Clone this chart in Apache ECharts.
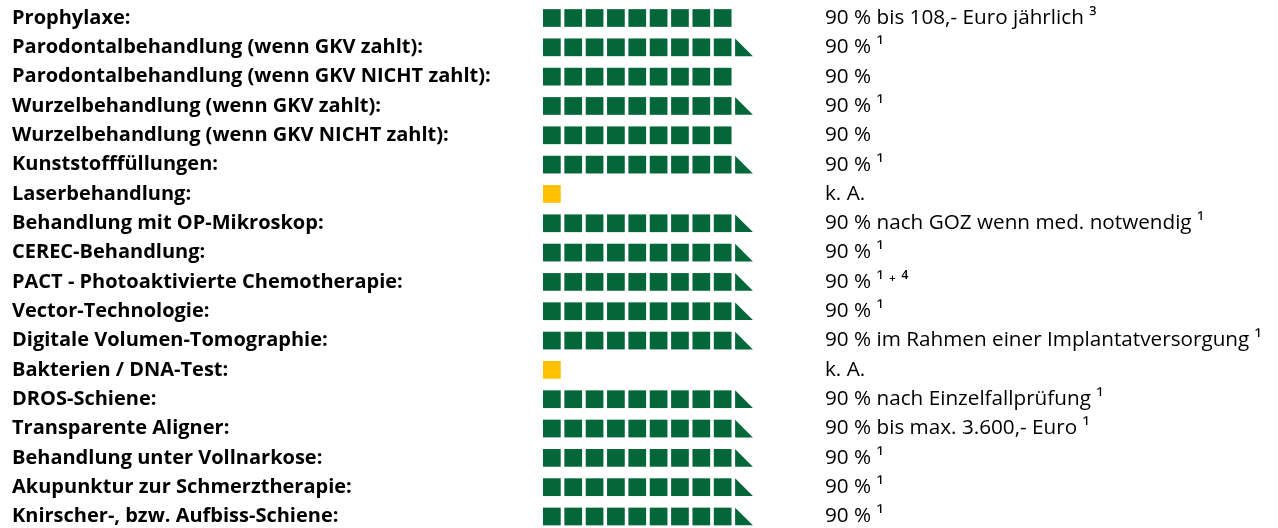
<!DOCTYPE html>
<html>
<head>
<meta charset="utf-8">
<script src="https://cdn.jsdelivr.net/npm/echarts@6/dist/echarts.min.js"></script>
<style>
  html, body { margin: 0; padding: 0; background: #fff; }
  #leistungen { width: 1278px; height: 528px; }
</style>
</head>
<body>
<div id="leistungen"></div>
<script>
var labels = [
  'Prophylaxe:',
  'Parodontalbehandlung (wenn GKV zahlt):',
  'Parodontalbehandlung (wenn GKV NICHT zahlt):',
  'Wurzelbehandlung (wenn GKV zahlt):',
  'Wurzelbehandlung (wenn GKV NICHT zahlt):',
  'Kunststofffüllungen:',
  'Laserbehandlung:',
  'Behandlung mit OP-Mikroskop:',
  'CEREC-Behandlung:',
  'PACT - Photoaktivierte Chemotherapie:',
  'Vector-Technologie:',
  'Digitale Volumen-Tomographie:',
  'Bakterien / DNA-Test:',
  'DROS-Schiene:',
  'Transparente Aligner:',
  'Behandlung unter Vollnarkose:',
  'Akupunktur zur Schmerztherapie:',
  'Knirscher-, bzw. Aufbiss-Schiene:'
];

// 9 = neun volle Kästchen, 9.5 = neun Kästchen + Dreieck, null = k. A.
var scores = [9, 9.5, 9, 9.5, 9, 9.5, null, 9.5, 9.5, 9.5, 9.5, 9.5, null, 9.5, 9.5, 9.5, 9.5, 9.5];

var notes = [
  '90 % bis 108,- Euro jährlich ³',
  '90 % ¹',
  '90 %',
  '90 % ¹',
  '90 %',
  '90 % ¹',
  'k. A.',
  '90 % nach GOZ wenn med. notwendig ¹',
  '90 % ¹',
  '90 % ¹ ⁺ ⁴',
  '90 % ¹',
  '90 % im Rahmen einer Implantatversorgung ¹',
  'k. A.',
  '90 % nach Einzelfallprüfung ¹',
  '90 % bis max. 3.600,- Euro ¹',
  '90 % ¹',
  '90 % ¹',
  '90 % ¹'
];

var green = '#04673a';
var yellow = '#ffc000';

// jedes Kästchen als eigener Datenpunkt: [position, zeile, art]
var blocks = [];
scores.forEach(function (s, row) {
  if (s === null) {
    blocks.push([0, row, 'na']);
    return;
  }
  var full = Math.floor(s);
  for (var k = 0; k < full; k++) blocks.push([k, row, 'full']);
  if (s > full) blocks.push([full, row, 'half']);
});

var chart = echarts.init(document.getElementById('leistungen'));

var option = {
  animation: false,
  grid: { left: 543, width: 213.5, top: 18, bottom: 11.5 },
  xAxis: { type: 'value', min: 0, max: 10, show: false },
  yAxis: [
    {
      type: 'category',
      data: labels,
      inverse: true,
      boundaryGap: false,
      position: 'left',
      axisLine: { show: false },
      axisTick: { show: false },
      splitLine: { show: false },
      axisLabel: {
        align: 'left',
        margin: 531,
        color: '#000',
        fontFamily: 'Open Sans',
        fontWeight: 'bold',
        fontSize: 20
      }
    },
    {
      type: 'category',
      data: notes,
      inverse: true,
      boundaryGap: false,
      position: 'right',
      axisLine: { show: false },
      axisTick: { show: false },
      splitLine: { show: false },
      axisLabel: {
        align: 'left',
        margin: 68.5,
        color: '#000',
        fontFamily: 'Open Sans',
        fontSize: 20.7
      }
    }
  ],
  series: [{
    type: 'custom',
    data: blocks,
    renderItem: function (params, api) {
      var p = api.coord([api.value(0), api.value(1)]);
      var unit = api.size([1, 0])[0];
      var s = unit * 0.83;
      var x = p[0], y = p[1] - s / 2;
      var kind = blocks[params.dataIndex][2];
      if (kind === 'half') {
        return {
          type: 'polygon',
          shape: { points: [[x, y], [x + s, y + s], [x, y + s]] },
          style: { fill: green }
        };
      }
      return {
        type: 'rect',
        shape: { x: x, y: y, width: s, height: s },
        style: { fill: kind === 'na' ? yellow : green }
      };
    }
  }]
};

chart.setOption(option);
</script>
</body>
</html>
